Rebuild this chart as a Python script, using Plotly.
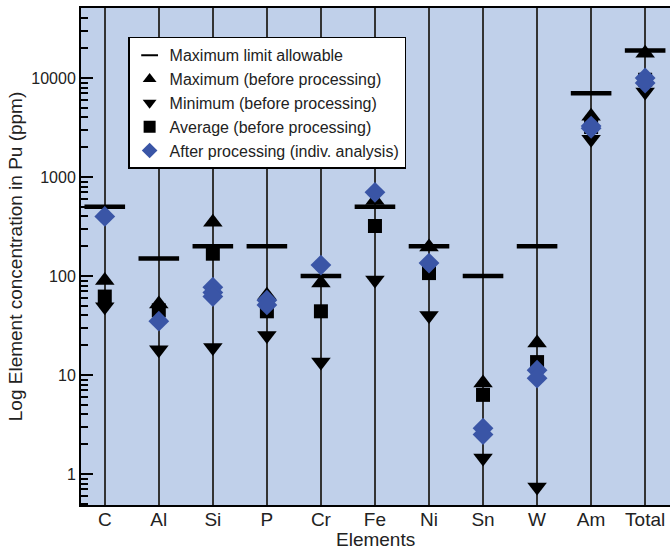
import plotly.graph_objects as go

elements = ["C", "Al", "Si", "P", "Cr", "Fe", "Ni", "Sn", "W", "Am", "Total"]
limit_allowable = [500, 150, 200, 200, 100, 500, 200, 100, 200, 7000, 19000]
max_before = [90, 52, 350, 64, 85, 580, 196, 8.3, 21, 4100, 17800]
min_before = [49, 18, 19, 25, 13.5, 91, 40, 1.45, 0.74, 2400, 7200]
avg_before = [62, 45, 168, 44, 44, 320, 107, 6.3, 13.5, 3200, 9600]
after_elements = ["C", "Al", "Si", "Si", "Si", "P", "P", "Cr", "Fe", "Ni",
                  "Sn", "Sn", "W", "W", "Am", "Am", "Total", "Total"]
after_values = [400, 35, 77, 68, 62, 57, 51, 129, 700, 135,
                2.9, 2.5, 11.2, 9.3, 3270, 3100, 10000, 8900]

FONT = "Liberation Sans, Arial, sans-serif"
BLUE = "#3A55A6"
TXT = "#222222"

fig = go.Figure()
fig.add_trace(go.Scatter(x=elements, y=limit_allowable, mode="markers",
                         name="Maximum limit allowable",
                         marker=dict(symbol="line-ew", size=29, color="black",
                                     line=dict(width=4.5, color="black"))))
fig.add_trace(go.Scatter(x=elements, y=max_before, mode="markers",
                         name="Maximum (before processing)",
                         marker=dict(symbol="triangle-up", size=17, color="black")))
fig.add_trace(go.Scatter(x=elements, y=min_before, mode="markers",
                         name="Minimum (before processing)",
                         marker=dict(symbol="triangle-down", size=17, color="black")))
fig.add_trace(go.Scatter(x=elements, y=avg_before, mode="markers",
                         name="Average (before processing)",
                         marker=dict(symbol="square", size=14, color="black")))
fig.add_trace(go.Scatter(x=after_elements, y=after_values, mode="markers",
                         name="After processing (indiv. analysis)",
                         marker=dict(symbol="diamond", size=16, color=BLUE)))

fig.update_layout(
    width=670, height=550,
    margin=dict(l=81, r=0, t=8, b=45),
    paper_bgcolor="white",
    plot_bgcolor="#C0D0EA",
    font=dict(family=FONT, color=TXT),
    legend=dict(x=0.08, y=0.942, xanchor="left", yanchor="top",
                bgcolor="white", bordercolor="black", borderwidth=1.5,
                font=dict(size=16, family=FONT, color=TXT),
                itemsizing="constant", tracegroupgap=0),
    xaxis=dict(
        categoryorder="array", categoryarray=elements,
        range=[-0.44, 10.46],
        showgrid=True, gridcolor="#333333", gridwidth=1.6,
        showline=True, linecolor="black", linewidth=2, mirror=True,
        ticks="", tickfont=dict(size=19, family=FONT, color=TXT),
        ticklabelstandoff=-4,
        zeroline=False,
    ),
    yaxis=dict(
        type="log", range=[-0.313, 4.707],
        tickvals=[1, 10, 100, 1000, 10000],
        ticktext=["1", "10", "100", "1000", "10000"],
        ticks="inside", ticklen=12, tickwidth=2, tickcolor="black",
        minor=dict(ticks="inside", ticklen=7, tickwidth=1.5, tickcolor="black",
                   dtick="D1", showgrid=False),
        showgrid=False, zeroline=False,
        showline=True, linecolor="black", linewidth=2,
        tickfont=dict(size=16, family=FONT, color=TXT),
        title=dict(text="Log Element concentration in Pu (ppm)",
                   font=dict(size=19, family=FONT, color=TXT), standoff=4),
    ),
    annotations=[dict(text="Elements", xref="paper", yref="paper",
                      x=0.5, y=-0.0704, xanchor="center", yanchor="middle",
                      showarrow=False, font=dict(size=19, family=FONT, color=TXT))],
)

fig.write_html("out.html")
